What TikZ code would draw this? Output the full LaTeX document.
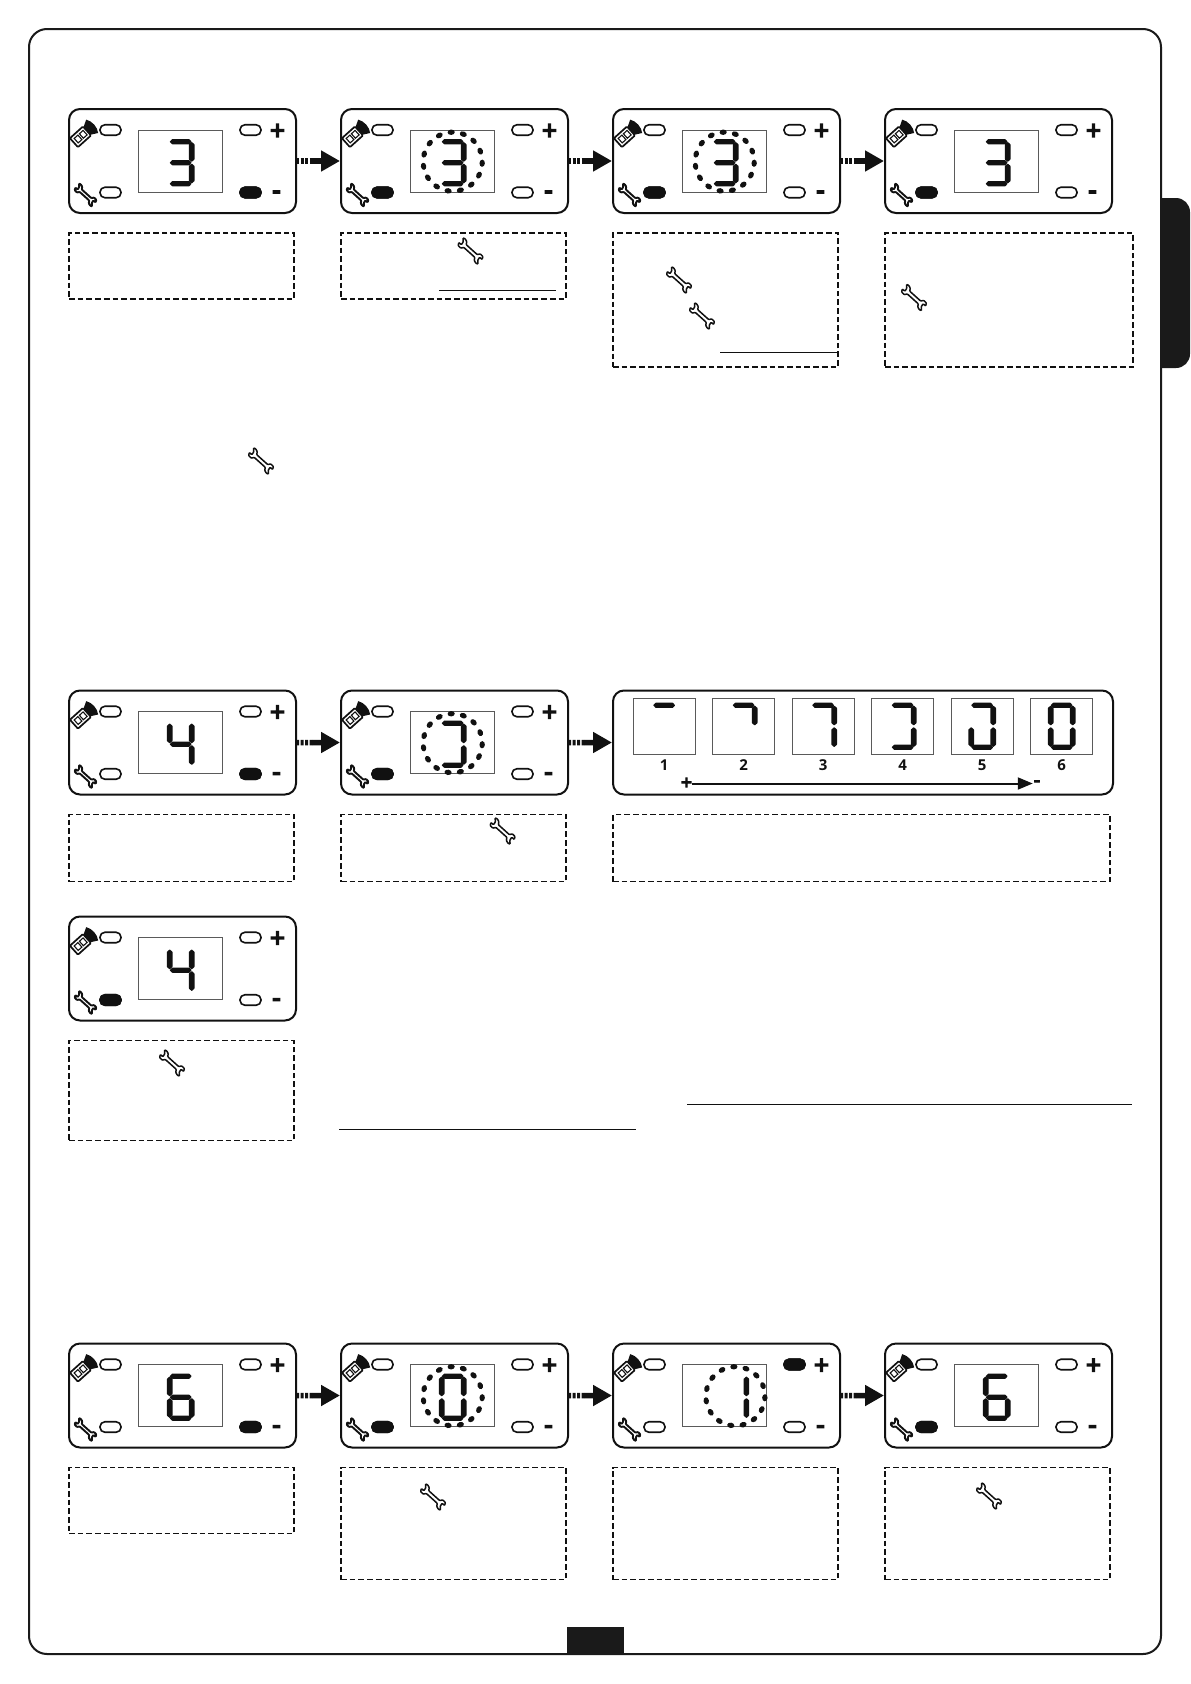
\documentclass[tikz,border=0pt]{standalone}
\usepackage{fontspec}
\setsansfont{Open Sans}
\newfontfamily\signfont[FakeBold=6]{Open Sans}
\usetikzlibrary{arrows.meta,positioning,calc}
\definecolor{panelInk}{HTML}{111111}
\definecolor{pageInk}{HTML}{1A1A1A}
\definecolor{displayEdge}{HTML}{5A5A5A}

\newcommand{\segh}[1]{\fill[panelInk,rounded corners=.4pt,shift={(0,#1)}] (-11,0)--(-8.6,2.6)--(8.6,2.6)--(11,0)--(8.6,-2.6)--(-8.6,-2.6)--cycle;}
\newcommand{\segv}[2]{\fill[panelInk,rounded corners=.4pt,shift={(#1,#2)}] (0,-10)--(-2.8,-7.6)--(-2.8,7.6)--(0,10)--(2.8,7.6)--(2.8,-7.6)--cycle;}
\newcommand{\sega}{\segh{21}}
\newcommand{\segg}{\segh{0}}
\newcommand{\segd}{\segh{-21}}
\newcommand{\segb}{\segv{11}{10.8}}
\newcommand{\segc}{\segv{11}{-10.8}}
\newcommand{\sege}{\segv{-11}{-10.8}}
\newcommand{\segf}{\segv{-11}{10.8}}
\newcommand{\sevenseg}[1]{\foreach \s in {#1}{\csname seg\s\endcsname}}

\newcommand{\paneldetail}[4][0]{
  \begin{scope}[shift={(#2.center)}]
    \node[display] (#2disp) at (-1.8,0) {};
    \node[led] (#2lt) at (-72,31) {};
    \node[led] (#2lb) at (-72,-31.5) {};
    \node[led] (#2rt) at (68,31) {};
    \node[led] (#2rb) at (68,-31.5) {};
    \node[led, fill=panelInk] (#2on) at (#2#3) {};
    \node[signmark] (#2plus) at (95,29) {+};
    \node[signmark] (#2minus) at (94,-34) {-};
    \pic[wrenchpanel] at (-97,-34) {wrench};
    \pic[rotate=42] at (-100,26) {remote};
    \begin{scope}[shift={(-1.8+#1,-1.7)}]
      \sevenseg{#4}
    \end{scope}
  \end{scope}
}
\newcommand{\dotring}[2][0]{
  \begin{scope}[shift={($(#2.center)+(-1.8+#1,-.7)$)}]
    \foreach \a in {0,24,...,336} {
      \fill[panelInk,shift={(93+\a:29.5)},rotate=93+\a] (0,0) ellipse (2.7 and 3.6);
    }
  \end{scope}
}
\newcommand{\flowarrow}[2]{
  \draw[flowdots] (#1.east) -- ($(#1.east)!0.36!(#2.west)$);
  \draw[flowhead] ($(#1.east)!0.36!(#2.west)$) -- ($(#2.west)+(-1,0)$);
}

\begin{document}
\begin{tikzpicture}[
    x=1pt, y=1pt,
    node distance=20pt and 45pt,
    every node/.style={font=\sffamily, align=center},
    panel/.style={draw=panelInk, line width=2pt, rounded corners=11pt, fill=white, outer sep=0pt, minimum width=227pt, minimum height=104pt},
    notebox/.style={draw=panelInk, line width=1.7pt, dash pattern=on 5.7pt off 3pt, outer sep=0pt, minimum width=225pt, minimum height=66pt},
    display/.style={draw=displayEdge, line width=1pt, outer sep=0pt, minimum width=84pt, minimum height=62pt},
    scalebox/.style={draw=displayEdge, line width=1pt, outer sep=0pt, minimum width=62pt, minimum height=56pt},
    led/.style={draw=panelInk, line width=1.6pt, rounded corners=4.9pt, fill=white, inner sep=0pt, minimum width=21pt, minimum height=10.5pt},
    signmark/.style={font=\signfont\fontsize{26}{26}\selectfont, inner sep=0pt, text=panelInk},
    scalenum/.style={font=\sffamily\bfseries\fontsize{15}{15}\selectfont, inner sep=0pt, text=panelInk},
    scalemark/.style={font=\signfont\fontsize{19}{19}\selectfont, inner sep=0pt, text=panelInk},
    flowdots/.style={draw=panelInk, line width=5.5pt, dash pattern=on 3.2pt off 1.3pt},
    flowhead/.style={-{Triangle[length=19pt,width=20pt]}, draw=panelInk, line width=5.5pt},
    scaleflow/.style={-{Triangle[length=15pt,width=12pt]}, draw=panelInk, line width=2pt, shorten >=1pt},
    uline/.style={draw=panelInk, line width=1pt},
    wrenchpanel/.style={rotate=-42, scale=.8, line width=1.9pt},
    wrenchnote/.style={rotate=-42, scale=.92, line width=1.5pt},
    wrench/.pic={
      \draw[panelInk, fill=white, rounded corners=.7pt] (-8,-2)--(8,-2)--(10,-5)--(13.5,-6)--(15.5,-5)--(12.5,-2.2)--(12,1.5)--(15.5,1.7)--(14,4.6)--(10,4.8)--(8,2)--(-8,2)--(-10,5)--(-13.5,6)--(-15.5,5)--(-12.5,2.2)--(-12,-1.5)--(-15.5,-1.7)--(-14,-4.6)--(-10,-4.8)--cycle;
    },
    remote/.pic={
      \fill[panelInk] (5,-4.5)--(5,4.5)--(13,9) .. controls (16.5,4) and (16.5,-4) .. (13,-9)--cycle;
      \draw[panelInk, line width=1.7pt, fill=white, rounded corners=1pt] (-11.5,-6) rectangle (6,6);
      \draw[panelInk, line width=1.1pt] (-8.5,-3) rectangle (-3.5,3);
      \draw[panelInk, line width=1.1pt] (-1.5,-3) rectangle (3.5,3);
    }
  ]
    \useasboundingbox (0,0) rectangle (1191,-1684);

    \fill[pageInk] (1161,-198) -- (1176,-198) arc (90:0:14) -- (1190,-354) arc (0:-90:14) -- (1161,-368) -- cycle;
    \node[draw=pageInk, line width=2pt, rounded corners=18pt, outer sep=0pt, minimum width=1132pt, minimum height=1625pt] (frame) at (595,-841.5) {};
    \node[fill=pageInk, outer sep=0pt, minimum width=57pt, minimum height=27pt] (pagetab) at (595.5,-1640.5) {};

    \node[panel] (ra) at (182.5,-161) {};
    \node[panel, right=of ra] (rb) {};
    \node[panel, right=of rb] (rc) {};
    \node[panel, right=of rc] (rd) {};
    \node[notebox, below=of ra.south west, anchor=north west] (ranote) {};
    \node[notebox, below=of rb.south west, anchor=north west] (rbnote) {};
    \node[notebox, below=of rc.south west, anchor=north west, minimum height=134pt] (rcnote) {};
    \node[notebox, below=of rd.south west, anchor=north west, minimum width=248pt, minimum height=134pt] (rdnote) {};
    \paneldetail{ra}{rb}{a,b,c,d,g}
    \paneldetail{rb}{lb}{a,b,c,d,g}
    \paneldetail{rc}{lb}{a,b,c,d,g}
    \paneldetail{rd}{lb}{a,b,c,d,g}
    \dotring{rb}
    \dotring{rc}
    \flowarrow{ra}{rb}
    \flowarrow{rb}{rc}
    \flowarrow{rc}{rd}

    \node[panel] (sa) at (182.5,-742.5) {};
    \node[panel, right=of sa] (sb) {};
    \node[panel, right=of sb, minimum width=500pt] (sc) {};
    \node[notebox, below=of sa.south west, anchor=north west, minimum height=67pt] (sanote) {};
    \node[notebox, below=of sb.south west, anchor=north west, minimum height=67pt] (sbnote) {};
    \node[notebox, below=of sc.south west, anchor=north west, minimum width=497pt, minimum height=67pt] (scnote) {};
    \paneldetail{sa}{rb}{b,c,f,g}
    \paneldetail{sb}{lb}{a,b,c,d}
    \dotring{sb}
    \flowarrow{sa}{sb}
    \flowarrow{sb}{sc}
    \foreach \n/\segs in {1/{a},2/{a,b},3/{a,b,c},4/{a,b,c,d},5/{a,b,c,d,e},6/{a,b,c,d,e,f}} {
      \node[scalebox] (box\n) at ($(sc.center)+(-198.8+79.5*\n-79.5,16.2)$) {};
      \node[scalenum, below=5pt of box\n] (num\n) {\n};
      \begin{scope}[shift={(box\n.center)}]
        \foreach \s in \segs {\csname seg\s\endcsname}
      \end{scope}
    }
    \node[scalemark] (scplus) at ($(sc.center)+(-176.5,-41)$) {+};
    \node[scalemark] (scminus) at ($(sc.center)+(174,-41)$) {-};
    \draw[scaleflow] (scplus) -- (scminus);

    \node[panel] (ta) at (182.5,-968.5) {};
    \node[notebox, below=of ta.south west, anchor=north west, minimum height=100pt] (tanote) {};
    \paneldetail{ta}{lb}{b,c,f,g}

    \node[panel] (ua) at (182.5,-1395.5) {};
    \node[panel, right=of ua] (ub) {};
    \node[panel, right=of ub] (uc) {};
    \node[panel, right=of uc] (ud) {};
    \node[notebox, below=of ua.south west, anchor=north west] (uanote) {};
    \node[notebox, below=of ub.south west, anchor=north west, minimum height=112pt] (ubnote) {};
    \node[notebox, below=of uc.south west, anchor=north west, minimum height=112pt] (ucnote) {};
    \node[notebox, below=of ud.south west, anchor=north west, minimum height=112pt] (udnote) {};
    \paneldetail{ua}{rb}{a,c,d,e,f,g}
    \paneldetail{ub}{lb}{a,b,c,d,e,f}
    \paneldetail[10.7]{uc}{rt}{b,c}
    \paneldetail{ud}{lb}{a,c,d,e,f,g}
    \dotring{ub}
    \dotring[10.7]{uc}
    \flowarrow{ua}{ub}
    \flowarrow{ub}{uc}
    \flowarrow{uc}{ud}

    \pic[wrenchnote] at (470.5,-251) {wrench};
    \pic[wrenchnote] at (679,-280) {wrench};
    \pic[wrenchnote] at (702,-316) {wrench};
    \pic[wrenchnote] at (914,-297.5) {wrench};
    \pic[wrenchnote] at (261,-461) {wrench};
    \pic[wrenchnote] at (502.6,-831) {wrench};
    \pic[wrenchnote] at (172,-1063) {wrench};
    \pic[wrenchnote] at (433,-1497) {wrench};
    \pic[wrenchnote] at (989,-1496) {wrench};

    \draw[uline] (439,-290) -- (556,-290);
    \draw[uline] (720,-352) -- (837,-352);
    \draw[uline] (687,-1104) -- (1132,-1104);
    \draw[uline] (339,-1129) -- (636,-1129);
\end{tikzpicture}
\end{document}
